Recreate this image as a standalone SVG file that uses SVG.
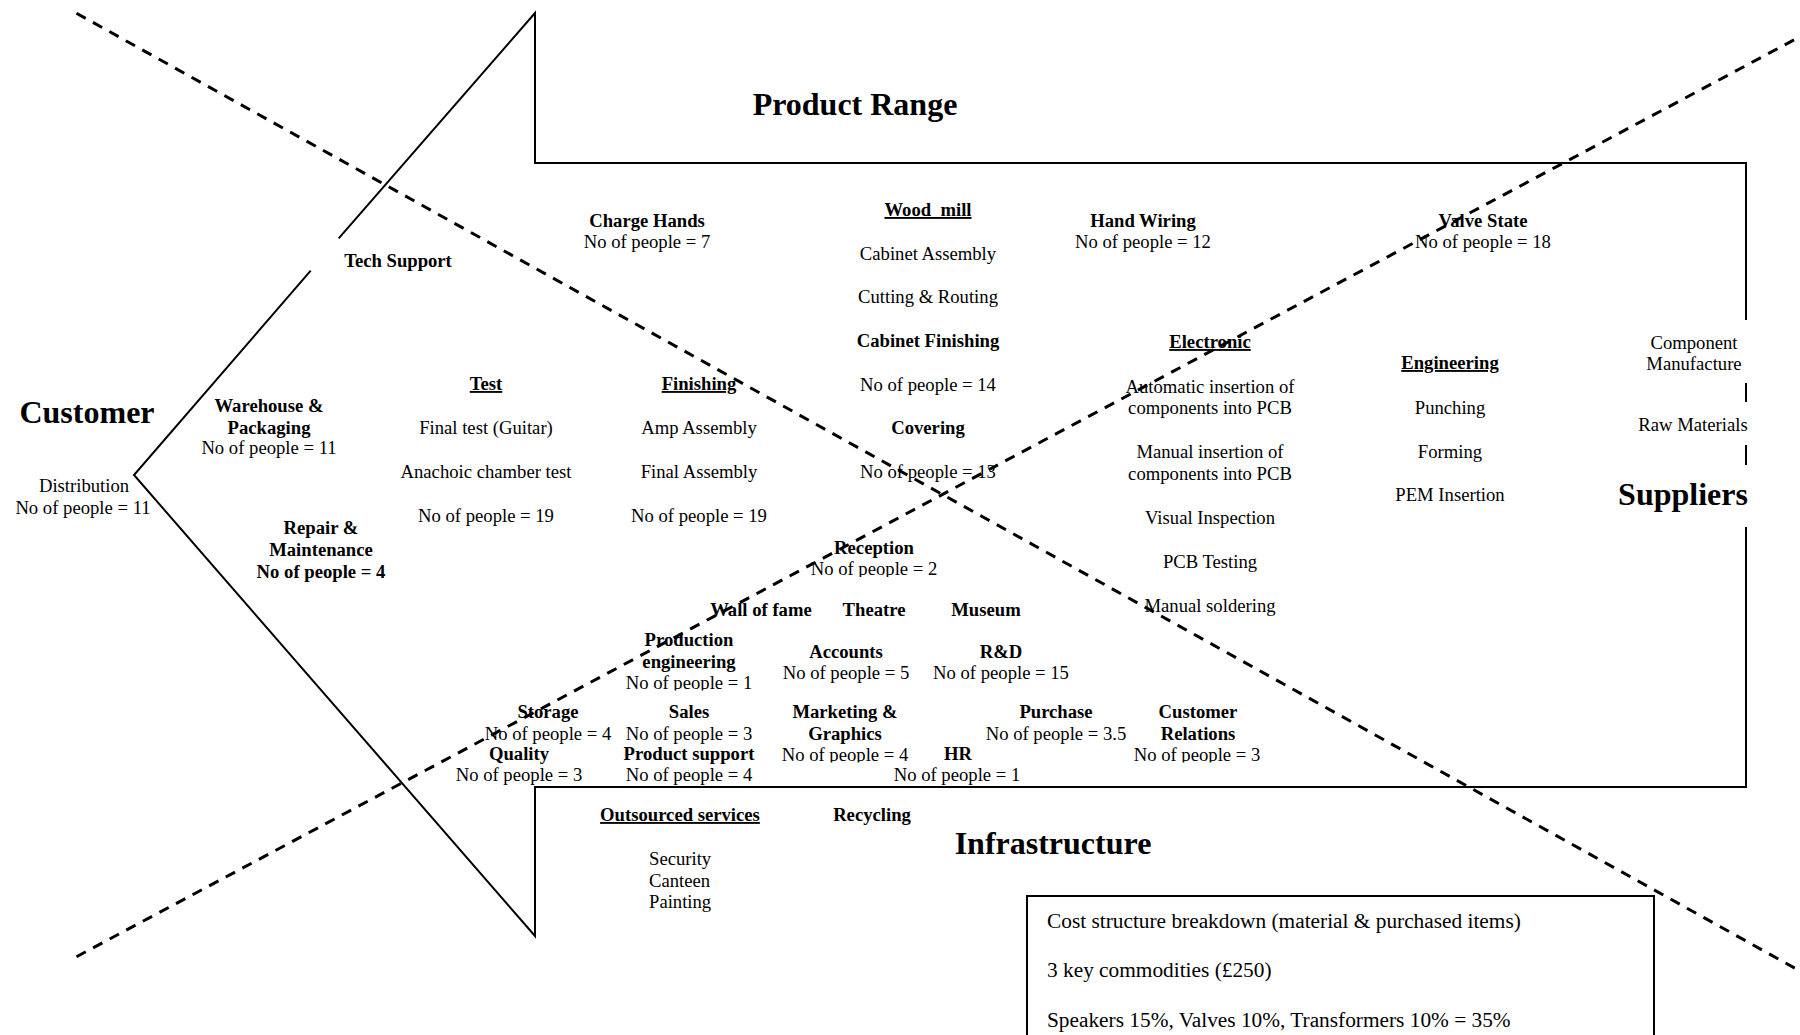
<svg xmlns="http://www.w3.org/2000/svg" width="1800" height="1035" viewBox="0 0 1800 1035">
  <style>
    .t { font-family: "Liberation Serif", "Times New Roman", serif; font-size: 18.67px; fill: #000; text-anchor: middle; }
    .b { font-weight: bold; }
    .u { text-decoration: underline; }
    .h { font-size: 32px; font-weight: bold; }
    .c { font-size: 21.33px; text-anchor: start; }
    .l { text-anchor: start; }
    .solid { fill: none; stroke: #000; stroke-width: 2; stroke-linejoin: miter; }
    .dash { fill: none; stroke: #000; stroke-width: 3; stroke-dasharray: 10.5 8.3; }
  </style>
  <defs>
    <!-- text frames that crop the descenders of a few head-count lines -->
    <clipPath id="cut" clipPathUnits="userSpaceOnUse">
      <rect x="800" y="555" width="150" height="22"/>
      <rect x="615" y="670" width="150" height="20.5"/>
      <rect x="770" y="742" width="150" height="20.5"/>
      <rect x="1120" y="742" width="155" height="20.5"/>
    </clipPath>
  </defs>
  <rect width="1800" height="1035" fill="#fff"/>

  <!-- arrow outline -->
  <g id="outline">
    <path class="solid" d="M338.7,238.3 L535,13 L535,163 L1746,163 L1746,320 M1746,383 L1746,402 M1746,445 L1746,465 M1746,527 L1746,787 L535,787 L535,936 L134,475 L310.7,270.7"/>
  </g>

  <!-- headings -->
  <g id="n-product-range"><text class="t h" x="855" y="115">Product Range</text></g>
  <g id="n-customer"><text class="t h" x="87" y="423">Customer</text></g>
  <g id="n-suppliers"><text class="t h" x="1683" y="505">Suppliers</text></g>
  <g id="n-infrastructure"><text class="t h" x="1053" y="854">Infrastructure</text></g>

  <!-- product range side -->
  <g id="n-tech-support"><text class="t b" x="398" y="267">Tech Support</text></g>
  <g id="n-charge-hands">
    <text class="t b" x="647" y="227">Charge Hands</text>
    <text class="t" x="647" y="248">No of people = 7</text>
  </g>
  <g id="n-wood-mill">
    <text class="t b u" x="928" y="216" xml:space="preserve">Wood  mill</text>
    <text class="t" x="928" y="260">Cabinet Assembly</text>
    <text class="t" x="928" y="303">Cutting &amp; Routing</text>
    <text class="t b" x="928" y="347">Cabinet Finishing</text>
    <text class="t" x="928" y="391">No of people = 14</text>
    <text class="t b" x="928" y="434">Covering</text>
    <text class="t" x="928" y="478">No of people = 13</text>
  </g>
  <g id="n-hand-wiring">
    <text class="t b" x="1143" y="227">Hand Wiring</text>
    <text class="t" x="1143" y="248">No of people = 12</text>
  </g>
  <g id="n-valve-state">
    <text class="t b" x="1483" y="227">Valve State</text>
    <text class="t" x="1483" y="248">No of people = 18</text>
  </g>
  <g id="n-electronic">
    <text class="t b u" x="1210" y="348">Electronic</text>
    <text class="t" x="1210" y="392.5">Automatic insertion of</text>
    <text class="t" x="1210" y="414">components into PCB</text>
    <text class="t" x="1210" y="458">Manual insertion of</text>
    <text class="t" x="1210" y="479.5">components into PCB</text>
    <text class="t" x="1210" y="523.5">Visual Inspection</text>
    <text class="t" x="1210" y="567.5">PCB Testing</text>
    <text class="t" x="1210" y="612">Manual soldering</text>
  </g>
  <g id="n-engineering">
    <text class="t b u" x="1450" y="369">Engineering</text>
    <text class="t" x="1450" y="413.5">Punching</text>
    <text class="t" x="1450" y="457.5">Forming</text>
    <text class="t" x="1450" y="501">PEM Insertion</text>
  </g>
  <g id="n-component">
    <text class="t" x="1694" y="349">Component</text>
    <text class="t" x="1694" y="370">Manufacture</text>
  </g>
  <g id="n-raw-materials"><text class="t" x="1693" y="430.5">Raw Materials</text></g>

  <!-- middle band -->
  <g id="n-distribution">
    <text class="t" x="84" y="492">Distribution</text>
    <text class="t" x="83" y="514">No of people = 11</text>
  </g>
  <g id="n-warehouse">
    <text class="t b" x="269" y="412">Warehouse &amp;</text>
    <text class="t b" x="269" y="433.5">Packaging</text>
    <text class="t" x="269" y="454">No of people = 11</text>
  </g>
  <g id="n-repair">
    <text class="t b" x="321" y="534">Repair &amp;</text>
    <text class="t b" x="321" y="556">Maintenance</text>
    <text class="t b" x="321" y="578">No of people = 4</text>
  </g>
  <g id="n-test">
    <text class="t b u" x="486" y="390">Test</text>
    <text class="t" x="486" y="434">Final test (Guitar)</text>
    <text class="t" x="486" y="478">Anachoic chamber test</text>
    <text class="t" x="486" y="521.5">No of people = 19</text>
  </g>
  <g id="n-finishing">
    <text class="t b u" x="699" y="390">Finishing</text>
    <text class="t" x="699" y="434">Amp Assembly</text>
    <text class="t" x="699" y="478">Final Assembly</text>
    <text class="t" x="699" y="521.5">No of people = 19</text>
  </g>

  <!-- infrastructure side -->
  <g id="n-reception">
    <text class="t b" x="874" y="554">Reception</text>
    <text class="t" x="874" y="575" clip-path="url(#cut)">No of people = 2</text>
  </g>
  <g id="n-wall-of-fame"><text class="t b" x="761" y="616">Wall of fame</text></g>
  <g id="n-theatre"><text class="t b" x="874" y="616">Theatre</text></g>
  <g id="n-museum"><text class="t b" x="986" y="616">Museum</text></g>
  <g id="n-production-engineering">
    <text class="t b" x="689" y="646">Production</text>
    <text class="t b" x="689" y="667.5">engineering</text>
    <text class="t" x="689" y="689" clip-path="url(#cut)">No of people = 1</text>
  </g>
  <g id="n-accounts">
    <text class="t b" x="846" y="657.5">Accounts</text>
    <text class="t" x="846" y="679">No of people = 5</text>
  </g>
  <g id="n-rnd">
    <text class="t b" x="1001" y="657.5">R&amp;D</text>
    <text class="t" x="1001" y="679">No of people = 15</text>
  </g>
  <g id="n-storage">
    <text class="t b" x="548" y="718">Storage</text>
    <text class="t" x="548" y="739.5">No of people = 4</text>
  </g>
  <g id="n-quality">
    <text class="t b" x="519" y="759.5">Quality</text>
    <text class="t" x="519" y="781">No of people = 3</text>
  </g>
  <g id="n-sales">
    <text class="t b" x="689" y="718">Sales</text>
    <text class="t" x="689" y="739.5">No of people = 3</text>
  </g>
  <g id="n-product-support">
    <text class="t b" x="689" y="759.5">Product support</text>
    <text class="t" x="689" y="781">No of people = 4</text>
  </g>
  <g id="n-marketing">
    <text class="t b" x="845" y="718">Marketing &amp;</text>
    <text class="t b" x="845" y="739.5">Graphics</text>
    <text class="t" x="845" y="761" clip-path="url(#cut)">No of people = 4</text>
  </g>
  <g id="n-purchase">
    <text class="t b" x="1056" y="718">Purchase</text>
    <text class="t" x="1056" y="739.5">No of people = 3.5</text>
  </g>
  <g id="n-hr">
    <text class="t b" x="958" y="759.5">HR</text>
    <text class="t" x="957" y="781">No of people = 1</text>
  </g>
  <g id="n-customer-relations">
    <text class="t b" x="1198" y="718">Customer</text>
    <text class="t b" x="1198" y="739.5">Relations</text>
    <text class="t" x="1197" y="761" clip-path="url(#cut)">No of people = 3</text>
  </g>
  <g id="n-outsourced">
    <text class="t b u" x="680" y="821">Outsourced services</text>
    <text class="t l" x="649" y="865">Security</text>
    <text class="t l" x="649" y="887">Canteen</text>
    <text class="t l" x="649" y="908">Painting</text>
  </g>
  <g id="n-recycling"><text class="t b" x="872" y="821">Recycling</text></g>

  <!-- cost note -->
  <g id="n-cost">
    <rect x="1027" y="896" width="627" height="160" fill="none" stroke="#000" stroke-width="2"/>
    <text class="t c" x="1047" y="928">Cost structure breakdown (material &amp; purchased items)</text>
    <text class="t c" x="1047" y="977">3 key commodities (£250)</text>
    <text class="t c" x="1047" y="1027">Speakers 15%, Valves 10%, Transformers 10% = 35%</text>
  </g>

  <!-- diagonal cross lines -->
  <g id="connectors">
    <line class="dash" x1="76.5" y1="13.3" x2="1800" y2="971"/>
    <line class="dash" x1="76.5" y1="956.7" x2="1800" y2="36.7"/>
  </g>
</svg>
